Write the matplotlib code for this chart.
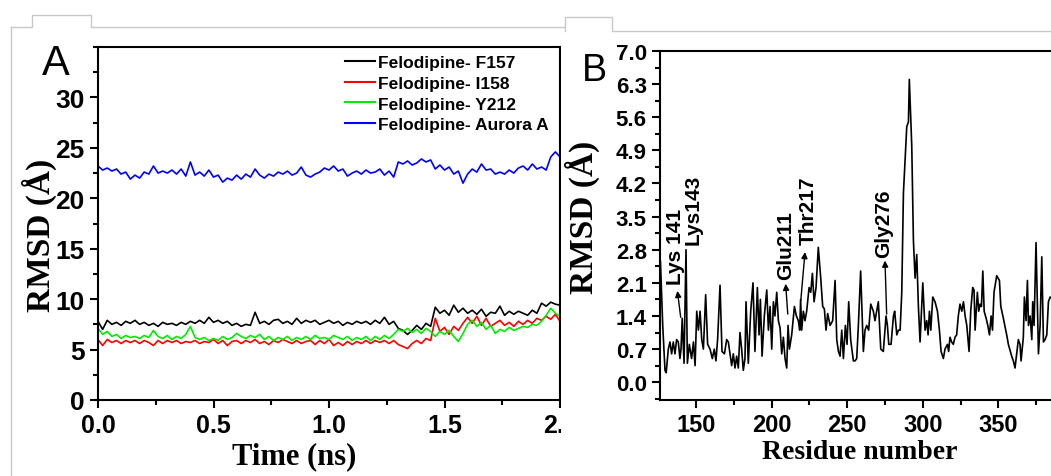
import numpy as np
import matplotlib
matplotlib.use("Agg")
import matplotlib.pyplot as plt
from matplotlib.patches import Rectangle
from matplotlib.lines import Line2D
from matplotlib.ticker import MultipleLocator

# ---- panel A data: RMSD vs time (ns) ----
time_ns = np.round(np.arange(0, 101) * 0.02, 2)

f157 = [7.8, 7.0, 7.9, 7.5, 7.7, 7.4, 7.8, 7.6, 7.9, 7.5, 7.7, 7.4, 7.6, 7.3, 7.7, 7.5, 7.6, 7.4, 7.7, 7.5,
        7.8, 7.6, 7.9, 7.6, 8.2, 7.7, 7.9, 7.6, 7.8, 7.4, 7.6, 7.3, 7.5, 7.4, 8.7, 7.6, 7.8, 7.5, 7.9, 8.0,
        7.6, 7.8, 7.5, 8.1, 7.6, 7.9, 7.7, 7.9, 7.5, 7.7, 7.9, 7.6, 7.8, 7.4, 7.7, 7.5, 7.8, 7.6, 7.8, 7.5,
        7.9, 7.6, 8.2, 7.5, 7.8, 7.1, 6.9, 6.5, 6.9, 7.4, 7.0, 7.6, 7.3, 9.2, 8.6, 8.9, 8.4, 9.4, 8.7, 9.1,
        8.6, 8.9, 8.5, 9.0, 8.3, 8.7, 8.6, 9.3, 8.4, 8.8, 8.5, 8.8, 8.6, 8.4, 8.9, 8.6, 9.6, 9.3, 9.7, 9.5,
        9.4]
i158 = [6.0, 5.4, 6.0, 5.7, 5.9, 5.6, 5.9, 5.7, 5.9, 5.6, 5.9, 5.7, 5.4, 5.9, 5.6, 5.9, 5.7, 5.9, 5.6, 5.8,
        5.7, 5.9, 5.6, 5.8, 5.7, 6.0, 5.6, 5.9, 5.4, 5.8, 5.9, 5.6, 5.9, 5.7, 6.0, 5.6, 5.8, 5.5, 5.9, 5.7,
        6.0, 5.8, 5.6, 5.9, 5.6, 5.8, 5.9, 5.5, 5.9, 5.6, 6.0, 5.4, 5.7, 5.4, 5.8, 5.5, 5.8, 5.6, 5.9, 5.6,
        5.9, 5.7, 5.9, 5.6, 5.9, 5.5, 5.3, 5.1, 5.6, 5.9, 5.6, 6.1, 5.9, 8.1, 6.8, 7.2, 6.5, 7.3, 6.9, 7.6,
        8.2, 7.6, 8.3, 7.4, 8.1, 7.3, 7.6, 7.9, 7.4, 7.7, 7.3, 7.8, 7.5, 7.9, 7.6, 8.1, 7.9, 8.3, 8.0, 8.5,
        7.8]
y212 = [7.1, 6.5, 6.8, 6.3, 6.5, 6.1, 6.4, 6.2, 6.3, 6.1, 6.4, 6.2, 6.9, 6.3, 6.1, 6.4, 6.0, 6.3, 6.1, 6.5,
        7.3, 6.2, 6.0, 6.2, 5.9, 6.1, 5.9, 6.3, 6.0, 6.2, 6.6, 6.3, 6.1, 6.4, 6.2, 6.5, 6.0, 6.3, 5.9, 6.2,
        6.0, 6.3, 5.9, 6.2, 6.0, 6.3, 6.0, 6.4, 6.1, 6.2, 6.0, 6.4, 6.2, 6.0, 6.3, 5.9, 6.2, 6.0, 6.3, 5.9,
        6.3, 6.0, 6.4, 6.1, 6.5, 7.0, 6.8, 7.1, 6.7, 7.0, 6.6, 7.1, 6.8, 6.3, 6.8, 6.5, 6.9, 6.3, 5.8, 6.6,
        7.5, 7.9, 7.3, 7.7, 7.0, 7.4, 6.6, 7.0, 6.8, 7.2, 6.9, 7.1, 7.3, 7.2, 7.5, 7.4, 7.8, 8.4, 9.1, 8.6,
        8.3]
aurora = [23.2, 22.8, 23.0, 22.7, 22.9, 22.4, 22.6, 21.9, 22.3, 22.0, 22.6, 22.4, 23.2, 22.5, 22.7, 22.5,
          22.8, 22.4, 22.9, 22.2, 23.6, 22.3, 22.6, 22.2, 22.8, 22.1, 22.3, 21.6, 22.0, 21.8, 22.3, 21.9,
          22.4, 22.1, 22.9, 22.3, 22.0, 22.4, 22.2, 22.6, 22.4, 22.7, 22.3, 22.5, 23.1, 22.3, 22.1, 22.4,
          22.6, 23.0, 22.8, 23.2, 22.7, 22.9, 22.2, 22.5, 22.7, 22.4, 22.8, 22.5, 22.6, 22.9, 22.3, 22.7,
          22.1, 23.6, 23.4, 23.7, 23.3, 23.5, 23.9, 23.6, 23.8, 22.9, 23.3, 22.8, 23.1, 22.4, 22.7, 21.5,
          22.4, 22.9, 22.6, 23.4, 22.8, 22.9, 22.4, 22.6, 22.4, 22.8, 22.5, 23.0, 23.2, 22.8, 23.4, 22.9,
          23.1, 22.8, 24.1, 24.6, 24.1]
series_labels = ["Felodipine- F157", "Felodipine- I158", "Felodipine- Y212", "Felodipine- Aurora A"]

# ---- panel B data: per-residue RMSD ----
residue = [126.5, 128.0, 129.5, 130.3, 131.7, 132.8, 133.9, 135.0, 136.1, 137.2, 138.3, 139.4, 140.1, 140.9,
           142.1, 143.4, 144.3, 145.6, 147.1, 148.3, 149.4, 150.5, 151.6, 152.7, 153.8, 154.9, 156.4, 157.7,
           159.3, 160.8, 162.1, 163.2, 164.3, 165.9, 167.2, 168.8, 170.3, 171.4, 172.5, 173.6, 174.7, 175.8,
           176.9, 178.0, 179.1, 180.2, 181.3, 182.4, 183.1, 184.6, 186.2, 187.7, 189.0, 190.6, 191.7, 192.6,
           193.7, 195.2, 196.8, 197.9, 199.0, 200.1, 201.2, 202.2, 203.4, 204.5, 205.6, 206.7, 207.8, 208.9,
           210.0, 210.9, 211.8, 213.3, 215.1, 216.4, 217.7, 218.6, 219.2, 219.9, 221.0, 222.1, 223.2, 224.8,
           225.9, 227.0, 228.1, 229.4, 230.9, 232.5, 233.8, 234.9, 236.0, 237.1, 238.7, 240.4, 242.0, 243.1,
           244.2, 245.3, 246.4, 247.5, 248.8, 249.9, 251.0, 252.3, 254.1, 255.2, 256.3, 257.4, 258.9, 260.7,
           261.8, 262.9, 264.2, 265.6, 267.3, 268.4, 270.6, 272.2, 273.9, 275.7, 276.6, 277.5, 279.0, 280.6,
           281.4, 282.8, 283.9, 285.0, 286.1, 287.2, 289.4, 290.5, 291.1, 292.7, 293.8, 294.9, 296.0, 297.1,
           298.2, 299.1, 300.0, 301.5, 302.6, 303.5, 304.4, 305.3, 306.6, 308.1, 309.7, 311.0, 312.1, 313.6,
           314.7, 316.3, 317.1, 318.0, 319.1, 320.2, 321.3, 322.4, 323.5, 324.6, 325.8, 326.9, 328.0, 329.1,
           330.6, 331.7, 333.0, 333.9, 334.6, 336.1, 337.0, 337.9, 338.8, 339.7, 340.6, 341.9, 343.0, 344.1,
           345.2, 346.1, 347.1, 348.9, 350.7, 351.6, 353.3, 355.5, 356.6, 358.8, 359.9, 361.0, 362.1, 363.2,
           364.3, 365.0, 366.5, 367.2, 368.3, 369.2, 369.9, 371.0, 372.1, 372.7, 373.6, 374.9, 376.5, 377.6,
           378.7, 379.8, 380.9, 382.0, 383.1, 384.2, 386.0]
rmsf = [2.55, 1.2, 0.25, 0.2, 0.7, 0.85, 0.6, 0.85, 0.6, 0.9, 0.85, 0.5, 0.7, 1.35,
        0.4, 2.8, 0.4, 0.8, 0.5, 0.85, 0.35, 1.5, 1.1, 1.5, 0.9, 0.7, 1.85, 0.8,
        0.7, 0.5, 0.7, 0.45, 0.9, 2.05, 0.65, 0.6, 0.9, 0.85, 0.6, 0.35, 0.6, 0.3,
        0.55, 0.3, 1.05, 0.7, 0.25, 0.5, 1.7, 0.4, 1.5, 2.1, 0.65, 2.0, 1.0, 1.75,
        0.55, 1.4, 1.95, 1.1, 1.6, 0.7, 1.7, 1.4, 1.9, 1.3, 1.15, 0.6, 0.95, 0.5,
        0.3, 1.2, 0.7, 1.0, 1.6, 1.4, 1.3, 1.1, 1.75, 1.1, 1.5, 1.3, 1.5, 2.0,
        1.9, 2.3, 1.7, 2.0, 2.85, 2.2, 1.6, 1.55, 1.1, 1.45, 1.2, 1.3, 2.15, 0.9,
        0.65, 0.55, 1.1, 0.5, 1.2, 0.8, 1.7, 0.9, 0.45, 0.45, 0.5, 1.2, 2.35, 0.65,
        1.1, 1.2, 1.1, 1.65, 1.5, 1.3, 1.7, 0.7, 0.65, 1.4, 1.2, 0.8, 0.8, 1.4,
        1.5, 1.0, 1.1, 1.1, 1.9, 4.0, 5.4, 5.5, 6.4, 5.0, 3.0, 2.2, 2.7, 1.6,
        0.85, 1.5, 2.1, 1.1, 1.3, 1.0, 1.5, 1.1, 1.8, 1.7, 1.5, 1.1, 0.65, 0.5,
        0.7, 0.8, 0.65, 0.95, 0.85, 0.8, 0.95, 1.0, 1.4, 1.65, 1.5, 1.7, 1.4, 1.2,
        0.65, 1.5, 2.0, 1.95, 1.1, 1.9, 1.5, 1.65, 1.6, 2.35, 1.5, 1.35, 1.2, 1.0,
        1.4, 1.1, 1.9, 2.25, 2.15, 1.6, 1.35, 1.0, 0.8, 0.55, 0.45, 0.3, 0.6, 0.9,
        0.8, 0.45, 0.95, 1.8, 1.3, 2.15, 1.2, 1.4, 0.9, 1.7, 1.2, 2.95, 0.6, 1.2,
        2.65, 0.85, 0.9, 1.0, 1.7, 1.8, 1.75]

# labelled residues: text, text x, text bottom y, arrow tail, arrow head
ann_text = ["Lys 141", "Lys143", "Glu211", "Thr217", "Gly276"]
ann_x = [136.6, 148.3, 209.3, 224.3, 274.0]
ann_y = [2.08, 2.92, 2.18, 2.92, 2.64]
arrow_tail = [(139.9, 1.37), None, (210.7, 1.44), (219.3, 1.72), (276.1, 1.44)]
arrow_head = [(137.7, 1.93), None, (209.3, 2.08), (222.1, 2.75), (275.0, 2.57)]

plt.rcParams['font.family'] = ['Liberation Sans', 'DejaVu Sans']
plt.rcParams['axes.linewidth'] = 1.5

fig = plt.figure(figsize=(10.51, 4.77), dpi=100)
W, H = 1051.0, 477.0

def place(l, t, r, b):
    return [l / W, 1 - b / H, (r - l) / W, (b - t) / H]

# ---------------- panel A ----------------
axA = fig.add_axes(place(98, 48, 560, 401))
colors = ['black', 'red', '#00ee00', 'blue']
for ys, c, lab in zip([f157, i158, y212, aurora], colors, series_labels):
    axA.plot(time_ns, ys, color=c, lw=1.2, label=lab)
axA.set_xlim(0, 2.0)
axA.yaxis.set_minor_locator(MultipleLocator(2.5))
axA.xaxis.set_major_locator(MultipleLocator(0.5))
axA.xaxis.set_minor_locator(MultipleLocator(0.25))
axA.set_yticks([0, 5, 10, 15, 20, 25, 30])
axA.set_ylim(0, 35)
axA.tick_params(which='both', direction='out', width=1.5, top=False, right=False)
axA.tick_params(axis='y', labelsize=19)
axA.tick_params(axis='x', labelsize=18)
axA.tick_params(which='major', length=6)
axA.tick_params(which='minor', length=3.5)
for t in axA.get_xticklabels() + axA.get_yticklabels():
    t.set_fontweight('bold')
axA.set_xlabel('Time (ns)', fontfamily='Liberation Serif', fontweight='bold', fontsize=22)
axA.xaxis.set_label_coords(0.424, -0.118)
axA.set_ylabel('RMSD (Å)', fontfamily='Liberation Serif', fontweight='bold', fontsize=24)
axA.yaxis.set_label_coords(-0.089, 0.47)
leg = axA.legend(loc='upper left', bbox_to_anchor=(345 / W, 1 - 56 / H), bbox_transform=fig.transFigure,
                 frameon=False, prop={'weight': 'bold', 'size': 12.5}, handlelength=1.7,
                 handletextpad=0.2, labelspacing=0.32, borderpad=0, borderaxespad=0)
for h in leg.get_lines():
    h.set_linewidth(1.5)
fig.text(42 / W, 1 - 44 / H, 'A', fontsize=30, va='top', ha='left')

# white sheet of the second picture covers the cut "2." label
fig.add_artist(Rectangle((561 / W, 0), 1 - 561 / W, 1, transform=fig.transFigure,
                         facecolor='white', edgecolor='none', zorder=1))

# ---------------- panel B ----------------
axB = fig.add_axes(place(660, 52, 1062, 400.7))
axB.set_zorder(2)
axB.patch.set_alpha(0)
axB.plot(residue, rmsf, color='black', lw=1.2)
axB.set_xlim(126.2, 126.2 + 402 / 1.512)
axB.set_ylim(-0.37, 7.0)
axB.set_yticks(np.round(np.arange(0, 7.01, 0.7), 1))
axB.yaxis.set_major_formatter(matplotlib.ticker.FormatStrFormatter('%.1f'))
axB.yaxis.set_minor_locator(MultipleLocator(0.35))
axB.xaxis.set_major_locator(MultipleLocator(50))
axB.xaxis.set_minor_locator(MultipleLocator(25))
axB.tick_params(which='both', direction='out', width=1.5, top=False, right=False)
axB.tick_params(which='major', length=6)
axB.tick_params(which='minor', length=3.5)
axB.tick_params(axis='y', labelsize=16)
axB.tick_params(axis='x', labelsize=17)
for t in axB.get_xticklabels() + axB.get_yticklabels():
    t.set_fontweight('bold')
axB.set_xlabel('Residue number', fontfamily='Liberation Serif', fontweight='bold', fontsize=20)
axB.xaxis.set_label_coords(0.4975, -0.112)
axB.set_ylabel('RMSD (Å)', fontfamily='Liberation Serif', fontweight='bold', fontsize=24)
axB.yaxis.set_label_coords(-0.15, 0.525)
for txt, x, y, tail, head in zip(ann_text, ann_x, ann_y, arrow_tail, arrow_head):
    axB.text(x, y, txt, rotation=90, ha='center', va='bottom', fontsize=15, fontweight='bold')
    if tail is not None:
        axB.annotate('', xy=head, xytext=tail,
                     arrowprops=dict(arrowstyle='-|>', color='black', lw=1.0, mutation_scale=9,
                                     shrinkA=0, shrinkB=0))
fig.text(582 / W, 1 - 53 / H, 'B', fontsize=27, va='top', ha='left', zorder=3)

# grey frame lines of the two pasted pictures
grey = '#c8c8c8'
frame_lines = [
    ([11, 32, 32, 91, 91, 564], [28, 28, 16, 16, 28, 28]),
    ([11, 11], [28, 477]),
    ([565, 565, 612, 612, 1051], [32, 18, 18, 32, 32]),
]
for xs, ys in frame_lines:
    fig.add_artist(Line2D([x / W for x in xs], [1 - y / H for y in ys], color=grey, lw=1.0, zorder=4))

fig.savefig('out.png', dpi=100, facecolor='white')
